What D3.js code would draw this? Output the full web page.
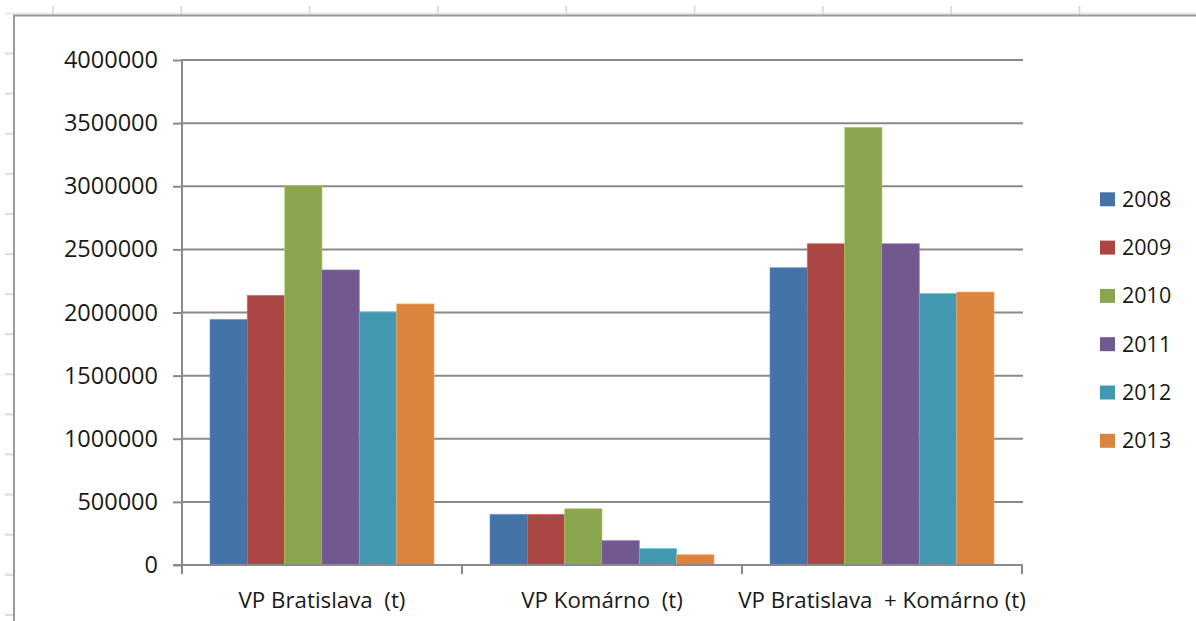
<!DOCTYPE html>
<html>
<head>
<meta charset="utf-8">
<script src="https://cdn.jsdelivr.net/npm/d3@7"></script>
<style>
  html, body { margin: 0; padding: 0; background: #fff; }
  svg { display: block; }
  text { font-family: "Open Sans", "Noto Sans", sans-serif; fill: #1a1a1a; }
</style>
</head>
<body>
<svg id="chart" width="1196" height="621"></svg>
<script>
// ---- data ----
const categories = ["VP Bratislava  (t)", "VP Komárno  (t)", "VP Bratislava  + Komárno (t)"];
const years = ["2008", "2009", "2010", "2011", "2012", "2013"];
const values2008 = [1945000, 401000, 2355000];
const values2009 = [2135000, 401000, 2545000];
const values2010 = [3005000, 446000, 3467000];
const values2011 = [2337000, 193000, 2545000];
const values2012 = [2002000, 130000, 2150000];
const values2013 = [2068000, 82000, 2162000];
const yTicks = [0, 500000, 1000000, 1500000, 2000000, 2500000, 3000000, 3500000, 4000000];
const colors = ["#4572A7", "#AA4643", "#89A54E", "#71588F", "#4198AF", "#DB843D"];

const seriesValues = [values2008, values2009, values2010, values2011, values2012, values2013];

const svg = d3.select("#chart");

// ---- spreadsheet background decoration ----
const deco = svg.append("g");
deco.selectAll("line.col").data(d3.range(9)).join("line")
  .attr("x1", i => 53 + i * 128.3).attr("x2", i => 53 + i * 128.3)
  .attr("y1", 6).attr("y2", 15)
  .attr("stroke", "#d5dcea").attr("stroke-width", 2);
deco.selectAll("line.row").data(d3.range(15)).join("line")
  .attr("x1", 5).attr("x2", 14)
  .attr("y1", i => 53.5 + i * 40.1).attr("y2", i => 53.5 + i * 40.1)
  .attr("stroke", "#d5dcea").attr("stroke-width", 2);
deco.append("line").attr("x1", 5).attr("x2", 1196).attr("y1", 13.5).attr("y2", 13.5)
  .attr("stroke", "#dfe4ee").attr("stroke-width", 1.5);
deco.append("path")
  .attr("d", "M14,621 V15.5 H1196")
  .attr("fill", "none").attr("stroke", "#9a9a9a").attr("stroke-width", 2);

// ---- scales ----
const plotLeft = 182, plotRight = 1022, plotTop = 60, plotBottom = 565;
const y = d3.scaleLinear().domain([0, 4000000]).range([plotBottom, plotTop]);
const x0 = d3.scaleBand().domain(categories).range([plotLeft, plotRight]).paddingInner(0).paddingOuter(0);
const x1 = d3.scaleBand().domain(years).range([0, x0.bandwidth()]).paddingInner(0).paddingOuter(0.75);
const color = d3.scaleOrdinal().domain(years).range(colors);

// ---- gridlines ----
svg.append("g").selectAll("line").data(yTicks.filter(d => d > 0)).join("line")
  .attr("x1", plotLeft).attr("x2", plotRight + 1)
  .attr("y1", d => y(d)).attr("y2", d => y(d))
  .attr("stroke", "#8a8a8a").attr("stroke-width", 2);

// ---- bars ----
const groups = svg.append("g").selectAll("g").data(categories).join("g")
  .attr("transform", c => `translate(${x0(c)},0)`);
groups.selectAll("rect")
  .data((c, ci) => years.map((yr, si) => ({ yr, v: seriesValues[si][ci] })))
  .join("rect")
  .attr("x", d => x1(d.yr))
  .attr("width", x1.bandwidth())
  .attr("y", d => y(d.v))
  .attr("height", d => y(0) - y(d.v))
  .attr("fill", d => color(d.yr))
  .attr("stroke", d => d3.color(color(d.yr)).brighter(0.7))
  .attr("stroke-opacity", 0.6)
  .attr("stroke-width", 1);

// ---- y axis ----
const yAxis = svg.append("g")
  .attr("transform", `translate(${plotLeft},0)`)
  .call(d3.axisLeft(y).tickValues(yTicks).tickFormat(d3.format("d")).tickSize(9).tickPadding(15));
yAxis.select(".domain").attr("stroke", "#8a8a8a").attr("stroke-width", 2)
  .attr("d", `M0,${plotTop - 1}V${plotBottom + 9}`);
yAxis.selectAll(".tick line").attr("stroke", "#8a8a8a").attr("stroke-width", 2);
yAxis.selectAll(".tick text").attr("font-size", 23.5).attr("font-family", "Open Sans").attr("fill", "#1a1a1a");

// ---- x axis ----
const xg = svg.append("g");
xg.append("line").attr("x1", plotLeft - 9).attr("x2", plotRight + 1)
  .attr("y1", plotBottom).attr("y2", plotBottom)
  .attr("stroke", "#8a8a8a").attr("stroke-width", 2);
const bounds = categories.map(c => x0(c)).concat([plotRight]);
xg.selectAll("line.xt").data(bounds).join("line")
  .attr("class", "xt")
  .attr("x1", d => d).attr("x2", d => d)
  .attr("y1", plotBottom).attr("y2", plotBottom + 9)
  .attr("stroke", "#8a8a8a").attr("stroke-width", 2);
xg.selectAll("text").data(categories).join("text")
  .attr("x", c => x0(c) + x0.bandwidth() / 2)
  .attr("y", 608)
  .attr("text-anchor", "middle")
  .attr("font-size", 22.3)
  .style("white-space", "pre")
  .attr("xml:space", "preserve")
  .text(c => c);

// ---- legend ----
const legend = svg.append("g");
const li = legend.selectAll("g").data(years).join("g")
  .attr("transform", (d, i) => `translate(1100,${199.3 + i * 48.3})`);
li.append("rect").attr("x", 0).attr("y", -7).attr("width", 15).attr("height", 14)
  .attr("fill", d => color(d));
li.append("text").attr("x", 22).attr("y", 7.5).attr("font-size", 21.5).text(d => d);
</script>
</body>
</html>
